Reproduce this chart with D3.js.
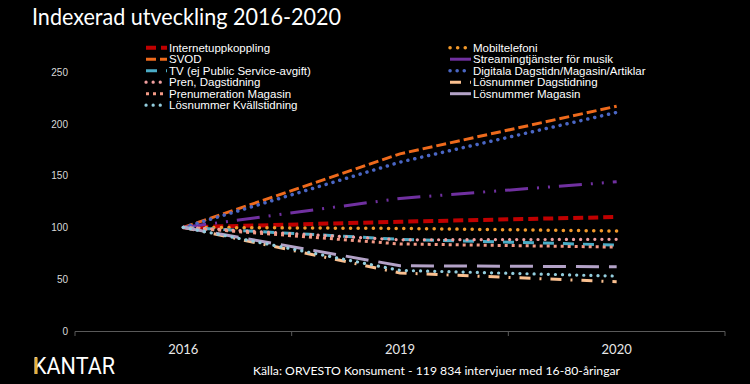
<!DOCTYPE html>
<html><head><meta charset="utf-8">
<script src="https://cdn.jsdelivr.net/npm/d3@7"></script>
<style>body{margin:0;background:#000;}svg{display:block;}</style>
</head><body>
<svg id="chart" width="750" height="384"></svg>
<script>
const years = ["2016", "2019", "2020"];
const yTicks = [0, 50, 100, 150, 200, 250];

const seriesNames = [
  "Internetuppkoppling", "Mobiltelefoni", "SVOD", "Streamingtjänster för musik",
  "TV (ej Public Service-avgift)", "Digitala Dagstidn/Magasin/Artiklar",
  "Pren, Dagstidning", "Lösnummer Dagstidning", "Prenumeration Magasin",
  "Lösnummer Magasin", "Lösnummer Kvällstidning"
];
const internet = [100, 105.5, 110];
const mobil = [100, 99, 96.5];
const svod = [100, 171, 217];
const streaming = [100, 128, 144];
const tv = [100, 88.5, 83];
const digitala = [100, 163, 211];
const prenDag = [100, 88, 88.5];
const losnDag = [100, 56, 47.5];
const prenMag = [100, 84, 81];
const losnMag = [100, 63, 62];
const losnKvall = [100, 58.5, 53];
const seriesValues = [internet, mobil, svod, streaming, tv, digitala, prenDag, losnDag, prenMag, losnMag, losnKvall];

const styles = [
  {c:"#c00000", w:4,   d:"10 5",  cap:"butt"},
  {c:"#f39a2b", w:3.5, d:"0.1 7.5", cap:"round"},
  {c:"#ee6a1c", w:3,   d:"10 4",  cap:"butt"},
  {c:"#7030a0", w:3,   d:"23 9 2 9 2 9", cap:"butt"},
  {c:"#4bacc6", w:3,   d:"11 9",  cap:"butt"},
  {c:"#4a66c4", w:3.5, d:"0.1 7", cap:"round"},
  {c:"#f2a0a0", w:3.2, d:"0.1 7", cap:"round"},
  {c:"#fac090", w:3,   d:"11 9 2 9", cap:"butt"},
  {c:"#f49a86", w:3,   d:"3 4",   cap:"butt"},
  {c:"#b3a2c7", w:3,   d:"23 10", cap:"butt"},
  {c:"#93cddd", w:3.2, d:"0.1 7", cap:"round"}
];

const svg = d3.select("#chart");
svg.append("rect").attr("width",750).attr("height",384).attr("fill","#000");

const x = d3.scalePoint().domain(years).range([75, 725]).padding(0.5);
const y = d3.scaleLinear().domain([0, 250]).range([331, 72]);

// title
svg.append("text").attr("x", 32).attr("y", 25)
  .attr("font-family", "Lato, 'Open Sans', sans-serif").attr("font-size", 23)
  .attr("fill", "#fff").attr("textLength", 309).attr("lengthAdjust","spacingAndGlyphs")
  .text("Indexerad utveckling 2016-2020");

// y axis labels
const yAxis = d3.axisLeft(y).tickValues(yTicks).tickSize(0).tickPadding(0);
const gy = svg.append("g").attr("transform", "translate(68,0)").call(yAxis);
gy.select(".domain").remove();
gy.selectAll("text").attr("font-family","'Liberation Sans', Arial, sans-serif")
  .attr("font-size", 10).attr("fill", "#d9d9d9");

// x axis
const bandEdges = [75, 75 + 650/3, 75 + 1300/3, 725];
const gx = svg.append("g");
gx.append("line").attr("x1", 75).attr("x2", 725).attr("y1", 331.5).attr("y2", 331.5)
  .attr("stroke", "#595959").attr("stroke-width", 1);
gx.selectAll("line.tk").data(bandEdges).join("line").attr("class","tk")
  .attr("x1", d => d).attr("x2", d => d).attr("y1", 331.5).attr("y2", 336)
  .attr("stroke", "#595959").attr("stroke-width", 1);
gx.selectAll("text").data(years).join("text")
  .attr("x", d => x(d)).attr("y", 354).attr("text-anchor", "middle")
  .attr("font-family", "Lato, 'Open Sans', sans-serif").attr("font-size", 13)
  .attr("fill", "#e8e8e8").text(d => d);

// lines
const line = d3.line().x((d, i) => x(years[i])).y(d => y(d));
seriesValues.forEach((vals, i) => {
  const s = styles[i];
  svg.append("path").datum(vals).attr("d", line)
    .attr("fill", "none").attr("stroke", s.c).attr("stroke-width", s.w)
    .attr("stroke-dasharray", s.d).attr("stroke-linecap", s.cap);
});

// legend
const leftCol = [0, 2, 4, 6, 8, 10];
const rightCol = [1, 3, 5, 7, 9];
const rowY = [47.7, 59.2, 70.7, 82.2, 93.7, 105.2];
function legendCol(idxs, x0) {
  idxs.forEach((si, r) => {
    const s = styles[si];
    const g = svg.append("g");
    g.append("line").attr("x1", x0).attr("x2", x0 + 21).attr("y1", rowY[r]).attr("y2", rowY[r])
      .attr("stroke", s.c).attr("stroke-width", s.w).attr("stroke-dasharray", s.d)
      .attr("stroke-linecap", s.cap);
    g.append("text").attr("x", x0 + 23).attr("y", rowY[r] + 4)
      .attr("font-family","'Liberation Sans', Arial, sans-serif").attr("font-size", 11.5)
      .attr("fill", "#fff").text(seriesNames[si]);
  });
}
legendCol(leftCol, 146);
legendCol(rightCol, 450);

// footer
svg.append("text").attr("x", 253).attr("y", 375)
  .attr("font-family", "Lato, 'Open Sans', sans-serif").attr("font-size", 12)
  .attr("fill", "#fff").attr("textLength", 367).attr("lengthAdjust","spacingAndGlyphs")
  .text("Källa: ORVESTO Konsument -  119 834 intervjuer med 16-80-åringar");

// logo
svg.append("text").attr("x", 33).attr("y", 374)
  .attr("font-family", "Roboto, 'DejaVu Sans', sans-serif").attr("font-size", 23)
  .attr("fill", "#fff").attr("textLength", 82).attr("lengthAdjust","spacingAndGlyphs")
  .text("KANTAR");
svg.append("rect").attr("x", 34.5).attr("y", 357.5).attr("width", 3).attr("height", 16.5)
  .attr("fill", "#e8b33a");
</script>
</body></html>
